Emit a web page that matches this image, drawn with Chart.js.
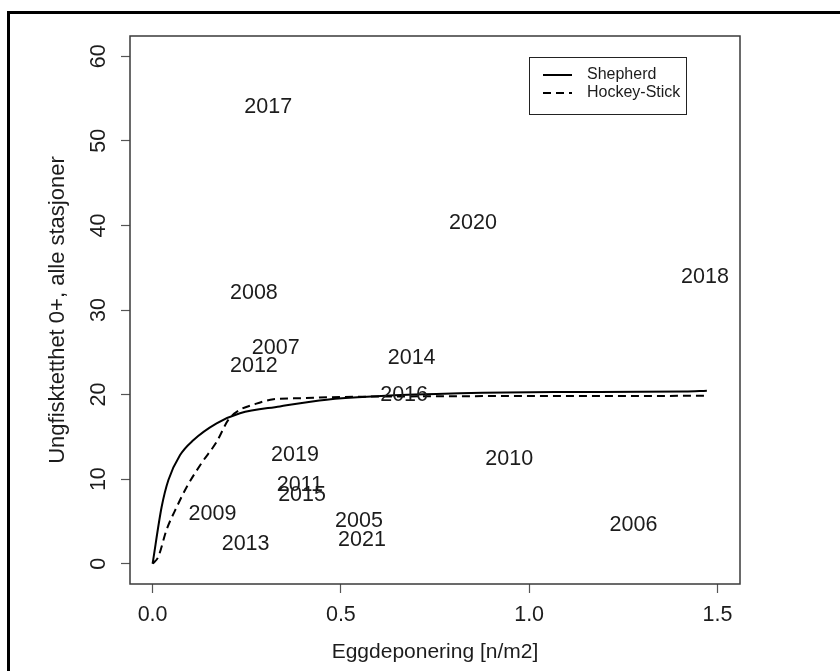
<!DOCTYPE html>
<html>
<head>
<meta charset="utf-8">
<script src="https://cdn.jsdelivr.net/npm/chart.js@4"></script>
<style>
  html, body { margin: 0; padding: 0; background: #fff; }
  canvas { display: block; }
</style>
</head>
<body>
<canvas id="c" width="840" height="671"></canvas>
<script>
// Egg deposition (n/m2) and 0+ density per year
const years   = ['2005','2006','2007','2008','2009','2010','2011','2012','2013',
                 '2014','2015','2016','2017','2018','2019','2020','2021'];
const eggs    = [0.548, 1.277, 0.327, 0.269, 0.159, 0.947, 0.391, 0.269, 0.247,
                 0.688, 0.397, 0.668, 0.307, 1.467, 0.378, 0.851, 0.556];
const density = [5.2, 4.8, 25.7, 32.2, 6.0, 12.5, 9.5, 23.5, 2.5,
                 24.5, 8.3, 20.1, 54.2, 34.1, 13.0, 40.5, 3.0];

// Fitted Shepherd curve
const shepherdX = [0, 0.024, 0.042, 0.073, 0.108, 0.170, 0.232, 0.338, 0.462, 0.595, 0.816, 1.070, 1.414, 1.472];
const shepherdY = [0, 6.7, 9.9, 12.85, 14.6, 16.6, 17.8, 18.6, 19.4, 19.8, 20.15, 20.3, 20.35, 20.45];

// Fitted hockey-stick curve
const hockeyX = [0, 0.015, 0.037, 0.064, 0.091, 0.130, 0.170, 0.201, 0.232, 0.267, 0.321, 0.374, 0.551, 1.472];
const hockeyY = [0, 0.8, 4.0, 6.7, 9.1, 11.9, 14.4, 17.0, 18.2, 18.8, 19.45, 19.55, 19.75, 19.85];

const xTicks = [0, 0.5, 1.0, 1.5];
const xTickLabels = ['0.0', '0.5', '1.0', '1.5'];
const yTicks = [0, 10, 20, 30, 40, 50, 60];
const yTickLabels = ['0', '10', '20', '30', '40', '50', '60'];

const seriesNames = ['Shepherd', 'Hockey-Stick'];

const FONT = 'Liberation Sans, Arial, Helvetica, sans-serif';
const INK = '#1c1c1c';

const toXY = (xs, ys) => xs.map((x, i) => ({ x: x, y: ys[i] }));

// Figure frame, plot box, legend and year labels
const decorations = {
  id: 'decorations',
  beforeDraw(chart) {
    const ctx = chart.ctx;
    ctx.save();
    ctx.fillStyle = '#fff';
    ctx.fillRect(0, 0, chart.width, chart.height);
    ctx.strokeStyle = '#000';
    ctx.lineWidth = 3;
    ctx.strokeRect(8.5, 12.5, 900, 700);
    ctx.restore();
  },
  afterDatasetsDraw(chart) {
    const ctx = chart.ctx;
    const a = chart.chartArea;
    ctx.save();
    // plot box
    ctx.strokeStyle = '#3a3a3a';
    ctx.lineWidth = 1.5;
    ctx.strokeRect(a.left, a.top, a.right - a.left, a.bottom - a.top);

    // year labels at each observation
    const meta = chart.getDatasetMeta(2);
    ctx.fillStyle = INK;
    ctx.font = '21.5px ' + FONT;
    ctx.textAlign = 'center';
    ctx.textBaseline = 'middle';
    meta.data.forEach((pt, i) => {
      ctx.fillText(years[i], pt.x, pt.y + 1.5);
    });

    // legend
    const lx = 529.5, ly = 57.5, lw = 157, lh = 57;
    ctx.fillStyle = '#fff';
    ctx.fillRect(lx, ly, lw, lh);
    ctx.strokeStyle = '#222';
    ctx.lineWidth = 1;
    ctx.strokeRect(lx, ly, lw, lh);
    const rows = [75, 93];
    [0, 1].forEach(k => {
      const ds = chart.data.datasets[k];
      ctx.strokeStyle = ds.borderColor;
      ctx.lineWidth = ds.borderWidth;
      ctx.setLineDash(ds.borderDash || []);
      ctx.beginPath();
      ctx.moveTo(543, rows[k]);
      ctx.lineTo(572, rows[k]);
      ctx.stroke();
      ctx.setLineDash([]);
      ctx.fillStyle = INK;
      ctx.font = '16px ' + FONT;
      ctx.textAlign = 'left';
      ctx.textBaseline = 'middle';
      ctx.fillText(seriesNames[k], 587, rows[k]);
    });
    ctx.restore();
  }
};

new Chart(document.getElementById('c'), {
  type: 'line',
  data: {
    datasets: [
      {
        label: seriesNames[0],
        data: toXY(shepherdX, shepherdY),
        borderColor: '#000',
        borderWidth: 2,
        pointRadius: 0,
        fill: false,
        cubicInterpolationMode: 'monotone'
      },
      {
        label: seriesNames[1],
        data: toXY(hockeyX, hockeyY),
        borderColor: '#000',
        borderWidth: 2,
        borderDash: [8, 5],
        pointRadius: 0,
        fill: false,
        cubicInterpolationMode: 'monotone'
      },
      {
        label: 'År',
        type: 'scatter',
        data: toXY(eggs, density),
        pointRadius: 0,
        showLine: false
      }
    ]
  },
  options: {
    responsive: false,
    animation: false,
    events: [],
    layout: { padding: { top: 36, right: 100, bottom: 0, left: 0 } },
    plugins: { legend: { display: false }, tooltip: { enabled: false } },
    scales: {
      x: {
        type: 'linear',
        min: -0.06,
        max: 1.56,
        afterBuildTicks: s => { s.ticks = xTicks.map(v => ({ value: v })); },
        afterFit: s => { s.height = 87; },
        grid: { display: true, drawOnChartArea: false, drawTicks: true, tickLength: 9, tickColor: '#555', tickWidth: 1.2 },
        border: { display: false },
        ticks: {
          autoSkip: false, maxRotation: 0, minRotation: 0, padding: 9,
          color: INK, font: { family: FONT, size: 21.5 },
          callback: (v, i) => xTickLabels[i]
        },
        title: {
          display: true, text: 'Eggdeponering [n/m2]', color: INK,
          font: { family: FONT, size: 21 }, padding: { top: 0, bottom: 6 }
        }
      },
      y: {
        type: 'linear',
        min: -2.4,
        max: 62.4,
        afterBuildTicks: s => { s.ticks = yTicks.map(v => ({ value: v })); },
        afterFit: s => { s.width = 130; },
        grid: { display: true, drawOnChartArea: false, drawTicks: true, tickLength: 9, tickColor: '#555', tickWidth: 1.2 },
        border: { display: false },
        ticks: {
          autoSkip: false, minRotation: 90, maxRotation: 90, padding: 10, crossAlign: 'center',
          color: INK, font: { family: FONT, size: 21.5 },
          callback: (v, i) => yTickLabels[i]
        },
        title: {
          display: true, text: 'Ungfisktetthet 0+, alle stasjoner', color: INK,
          font: { family: FONT, size: 22 }, padding: { top: 45, bottom: 0 }
        }
      }
    }
  },
  plugins: [decorations]
});
</script>
</body>
</html>
